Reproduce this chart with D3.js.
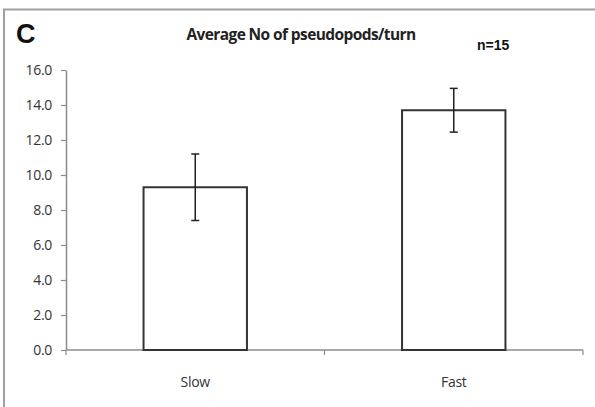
<!DOCTYPE html>
<html>
<head>
<meta charset="utf-8">
<script src="https://cdn.jsdelivr.net/npm/d3@7"></script>
<style>
body { margin: 0; background: #fff; }
svg { display: block; }
</style>
</head>
<body>
<svg width="595" height="407"></svg>
<script>
var categories = ["Slow", "Fast"];
var means = [9.3, 13.7];
var errors = [1.9, 1.25];
var yTicks = [0, 2, 4, 6, 8, 10, 12, 14, 16];

var svg = d3.select("svg"),
  margin = {top: 70, right: 12, bottom: 57, left: 66},
  width = +svg.attr("width") - margin.left - margin.right,
  height = +svg.attr("height") - margin.top - margin.bottom,
  g = svg.append("g").attr("transform", "translate(" + margin.left + "," + margin.top + ")");

// panel frame (left and top only)
svg.append("path")
  .attr("d", "M4,407V9.5H595")
  .attr("fill", "none")
  .attr("stroke", "#a0a0a0")
  .attr("stroke-width", 2);

var x = d3.scaleBand()
  .domain(categories)
  .range([0, width])
  .paddingInner(0.6)
  .paddingOuter(0.3);

var y = d3.scaleLinear()
  .domain([0, 16])
  .range([height, 0]);

// y axis
var yAxis = g.append("g")
  .call(d3.axisLeft(y).tickValues(yTicks).tickSize(5).tickSizeOuter(0).tickFormat(d3.format(".1f")));
yAxis.select(".domain").attr("stroke", "#8c8c8c").attr("stroke-width", 1.5);
yAxis.selectAll(".tick line").attr("stroke", "#8c8c8c").attr("stroke-width", 1.2);
yAxis.selectAll(".tick text")
  .attr("x", -14)
  .attr("fill", "#333")
  .style("font-family", "'Open Sans', sans-serif")
  .style("font-size", "14px")
  .style("letter-spacing", "-0.3px");

// x axis with boundary ticks
var xAxis = g.append("g").attr("transform", "translate(0," + height + ")");
xAxis.append("line")
  .attr("x1", 0).attr("x2", width)
  .attr("stroke", "#8c8c8c").attr("stroke-width", 1.5);
var bounds = [0].concat(categories.map(function(c) { return x(c) + x.bandwidth() / 2 + x.step() / 2; }));
xAxis.selectAll(".xtick")
  .data(bounds)
  .enter().append("line")
  .attr("x1", function(d) { return d; })
  .attr("x2", function(d) { return d; })
  .attr("y1", 0).attr("y2", 5)
  .attr("stroke", "#8c8c8c").attr("stroke-width", 1.2);
xAxis.selectAll(".xlabel")
  .data(categories)
  .enter().append("text")
  .attr("x", function(d) { return x(d) + x.bandwidth() / 2; })
  .attr("y", 37)
  .attr("text-anchor", "middle")
  .attr("fill", "#333")
  .style("font-family", "'Open Sans', sans-serif")
  .style("font-size", "14px")
  .style("letter-spacing", "-0.3px")
  .text(function(d) { return d; });

// bars
g.selectAll(".bar")
  .data(categories)
  .enter().append("rect")
  .attr("x", function(d) { return x(d); })
  .attr("y", function(d, i) { return y(means[i]); })
  .attr("width", x.bandwidth())
  .attr("height", function(d, i) { return height - y(means[i]); })
  .attr("fill", "#fff")
  .attr("stroke", "#333")
  .attr("stroke-width", 2);

// error bars
var err = g.selectAll(".err")
  .data(categories)
  .enter().append("g")
  .attr("transform", function(d) { return "translate(" + (x(d) + x.bandwidth() / 2) + ",0)"; });
err.append("line")
  .attr("y1", function(d, i) { return y(means[i] + errors[i]); })
  .attr("y2", function(d, i) { return y(means[i] - errors[i]); })
  .attr("stroke", "#222").attr("stroke-width", 1.5);
err.append("line")
  .attr("x1", -4).attr("x2", 4)
  .attr("y1", function(d, i) { return y(means[i] + errors[i]); })
  .attr("y2", function(d, i) { return y(means[i] + errors[i]); })
  .attr("stroke", "#222").attr("stroke-width", 1.5);
err.append("line")
  .attr("x1", -4).attr("x2", 4)
  .attr("y1", function(d, i) { return y(means[i] - errors[i]); })
  .attr("y2", function(d, i) { return y(means[i] - errors[i]); })
  .attr("stroke", "#222").attr("stroke-width", 1.5);

// texts
svg.append("text")
  .attr("x", 16).attr("y", 43)
  .style("font-family", "'Liberation Sans', Arial, sans-serif")
  .style("font-weight", "bold")
  .style("font-size", "27px")
  .attr("fill", "#111")
  .text("C");

svg.append("text")
  .attr("x", 301).attr("y", 40)
  .attr("text-anchor", "middle")
  .style("font-family", "'Open Sans', sans-serif")
  .style("font-weight", "bold")
  .style("font-size", "15.5px")
  .style("letter-spacing", "-0.6px")
  .attr("fill", "#222")
  .text("Average No of pseudopods/turn");

svg.append("text")
  .attr("x", 477).attr("y", 50)
  .style("font-family", "'Liberation Sans', Arial, sans-serif")
  .style("font-weight", "bold")
  .style("font-size", "14px")
  .attr("fill", "#111")
  .text("n=15");
</script>
</body>
</html>
